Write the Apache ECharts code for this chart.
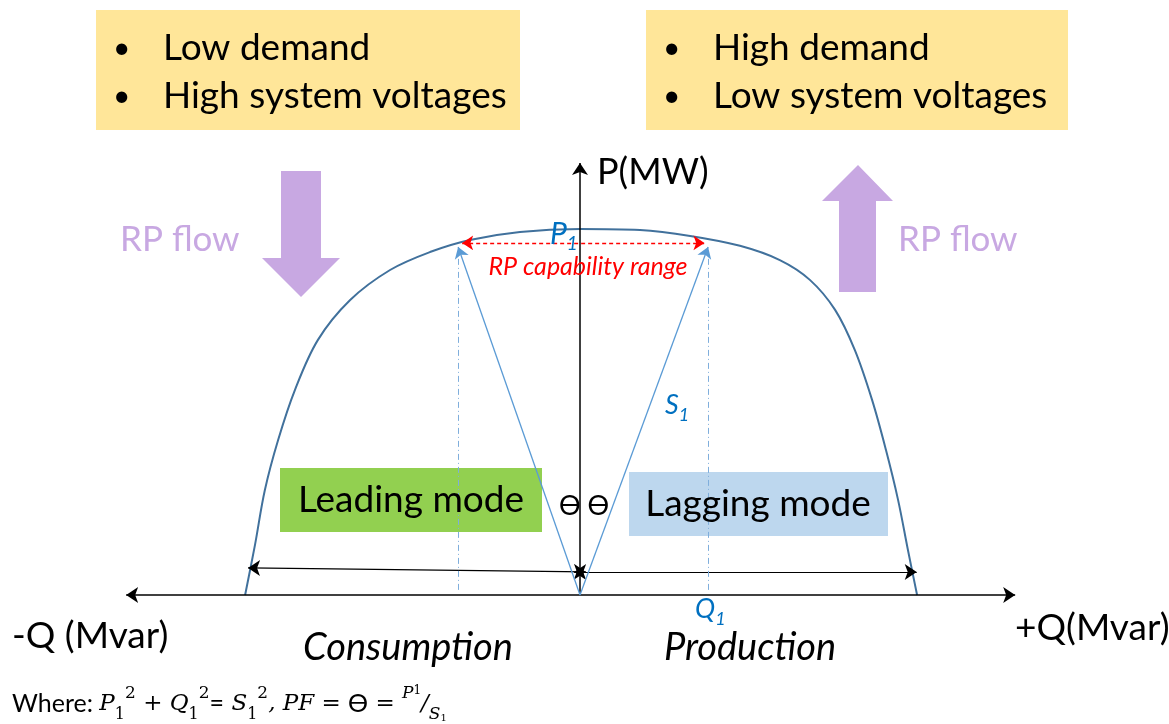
<!DOCTYPE html>
<html><head><meta charset="utf-8">
<script src="https://cdn.jsdelivr.net/npm/echarts@6/dist/echarts.min.js"></script>
<style>html,body{margin:0;padding:0;background:#fff}#c{width:1169px;height:724px}</style>
</head><body><div id="c"></div>
<script>
// Capability curve: Q (Mvar, relative units), P (MW, max normalised to 100)
const curveQ = [-91.5,-88.8,-86.1,-82.5,-77.9,-71.6,-62.8,-51.9,-41.0,-30.1,-16.4,0,16.4,30.1,43.7,54.6,62.8,69.7,75.1,79.8,83.6,86.9,89.6,92.1];
const curveP = [0,13.7,28.7,42.3,56.0,69.7,80.6,88.8,93.7,97.0,99.2,100,99.7,98.1,95.4,91.5,86.1,77.9,66.9,53.3,39.6,26.0,12.3,0];
// operating point
const P1 = 95.1;
const Q1Lead = -33.3;
const Q1Lag = 35.0;
// RP capability range arrow
const rangeP = 96.2;
const rangeQ = [-32.2, 34.0];
// leading/lagging extent arrows
const modeArrowP = [6.3, 7.4];
const qLimits = [-90.7, 92.0];
// axes extents
const axisQ = [-124, 118.9];
const axisPMax = 118;

const font = 'Lato';
const chart = echarts.init(document.getElementById('c'));

function seg(a, b) { return { coords: [a, b] }; }

const curve = curveQ.map((q, i) => [q, curveP[i]]);

function txt(x, y, text, size, opts) {
  return Object.assign({
    type: 'text', x: x, y: y, z: 10,
    style: Object.assign({ text: text, fontFamily: font, fontSize: size, fill: '#000', textVerticalAlign: 'middle' }, (opts && opts.style) || {})
  }, opts && opts.el || {});
}

const purple = '#C8A8E2';
const big = 37;
const graphics = [
  { type: 'rect', z: 1, shape: { x: 96, y: 10, width: 424, height: 120 }, style: { fill: '#FFE699' } },
  { type: 'rect', z: 1, shape: { x: 646, y: 10, width: 422, height: 120 }, style: { fill: '#FFE699' } },
  txt(113, 48, '•', 30), txt(163, 48, 'Low demand', big),
  txt(113, 96, '•', 30), txt(163, 96, 'High system voltages', big),
  txt(663, 48, '•', 30), txt(713, 48, 'High demand', big),
  txt(663, 96, '•', 30), txt(713, 96, 'Low system voltages', big),
  { type: 'polygon', z: 1, shape: { points: [[281,171],[321,171],[321,258],[340,258],[301,297],[262,258],[281,258]] }, style: { fill: purple } },
  { type: 'polygon', z: 1, shape: { points: [[839,292],[876,292],[876,201],[893,201],[858,165],[822,201],[839,201]] }, style: { fill: purple } },
  txt(120, 240, 'RP flow', 35, { style: { fill: purple } }),
  txt(898, 240, 'RP flow', 35, { style: { fill: purple } }),
  { type: 'rect', z: 1, shape: { x: 280, y: 468, width: 262, height: 64 }, style: { fill: '#92D050' } },
  { type: 'rect', z: 1, shape: { x: 629, y: 472, width: 259, height: 64 }, style: { fill: '#BDD7EE' } },
  txt(411, 500, 'Leading mode', big, { style: { textAlign: 'center' } }),
  txt(758, 504, 'Lagging mode', big, { style: { textAlign: 'center' } }),
  txt(584, 506, 'ϴ ϴ', 27, { style: { textAlign: 'center' } }),
  txt(408, 648, 'Consumption', 38, { style: { textAlign: 'center', fontStyle: 'italic' } }),
  txt(750, 648, 'Production', 38, { style: { textAlign: 'center', fontStyle: 'italic' } }),
  txt(12, 636, '-Q (Mvar)', big),
  txt(1015, 628, '+Q(Mvar)', big),
  txt(597, 172, 'P(MW)', 36),
  txt(588, 267, 'RP capability range', 25, { style: { textAlign: 'center', fontStyle: 'italic', fill: '#FF0000' } }),
  { type: 'text', x: 550, y: 236, z: 10, style: { text: '{a|P}{b|1}', textVerticalAlign: 'middle', rich: {
      a: { fontFamily: font, fontSize: 30, fontStyle: 'italic', fill: '#0070C0', lineHeight: 34, verticalAlign: 'top' },
      b: { fontFamily: font, fontSize: 19, fontStyle: 'italic', fill: '#0070C0', lineHeight: 34, verticalAlign: 'bottom' } } } },
  { type: 'text', x: 665, y: 408, z: 10, style: { text: '{a|S}{b|1}', textVerticalAlign: 'middle', rich: {
      a: { fontFamily: font, fontSize: 27, fontStyle: 'italic', fill: '#0070C0', lineHeight: 32, verticalAlign: 'top' },
      b: { fontFamily: font, fontSize: 18, fontStyle: 'italic', fill: '#0070C0', lineHeight: 32, verticalAlign: 'bottom' } } } },
  { type: 'text', x: 695, y: 612, z: 10, style: { text: '{a|Q}{b|1}', textVerticalAlign: 'middle', rich: {
      a: { fontFamily: font, fontSize: 27, fontStyle: 'italic', fill: '#0070C0', lineHeight: 32, verticalAlign: 'top' },
      b: { fontFamily: font, fontSize: 18, fontStyle: 'italic', fill: '#0070C0', lineHeight: 32, verticalAlign: 'bottom' } } } },
  { type: 'text', x: 12, y: 704, z: 10, style: {
      text: '{w|Where: }{m|P}{sb|1}{sp|2}{m| + Q}{sb|1}{sp|2}{w|=}{m| S}{sb|1}{sp|2}{m|, PF = }{w|ϴ}{m| = }{spi|P}{spn|1}{m|/}{sbi|S}{sbs|1}',
      textVerticalAlign: 'middle',
      rich: {
        w: { fontFamily: font, fontSize: 25, fill: '#000', lineHeight: 38, verticalAlign: 'middle' },
        m: { fontFamily: 'DejaVu Serif', fontSize: 23, fontStyle: 'italic', fill: '#000', lineHeight: 38, verticalAlign: 'middle' },
        sb: { fontFamily: 'DejaVu Serif', fontSize: 16, fill: '#000', lineHeight: 30, verticalAlign: 'bottom' },
        sp: { fontFamily: 'DejaVu Serif', fontSize: 17, fill: '#000', lineHeight: 36, verticalAlign: 'top' },
        spi: { fontFamily: 'DejaVu Serif', fontSize: 17, fontStyle: 'italic', fill: '#000', lineHeight: 36, verticalAlign: 'top' },
        spn: { fontFamily: 'DejaVu Serif', fontSize: 12, fill: '#000', lineHeight: 34, verticalAlign: 'top' },
        sbi: { fontFamily: 'DejaVu Serif', fontSize: 17, fontStyle: 'italic', fill: '#000', lineHeight: 30, verticalAlign: 'bottom' },
        sbs: { fontFamily: 'DejaVu Serif', fontSize: 10, fill: '#000', lineHeight: 26, verticalAlign: 'bottom' }
      } } }
];

const option = {
  animation: false,
  grid: { left: 31, right: 40, top: 155.8, bottom: 19.2 },
  xAxis: { type: 'value', min: -150, max: 150, show: false },
  yAxis: { type: 'value', min: -30, max: 120, show: false },
  graphic: graphics,
  series: [
    { type: 'line', data: curve, smooth: 0.35, symbol: 'none', z: 3,
      lineStyle: { color: '#41719C', width: 2 } },
    { type: 'lines', coordinateSystem: 'cartesian2d', z: 4,
      symbol: ['arrow', 'arrow'], symbolSize: 12,
      lineStyle: { color: '#000', width: 1.5, opacity: 1, curveness: 0 },
      data: [seg([axisQ[0], 0], [axisQ[1], 0])] },
    { type: 'lines', coordinateSystem: 'cartesian2d', z: 4,
      symbol: ['none', 'arrow'], symbolSize: 12,
      lineStyle: { color: '#000', width: 1.5, opacity: 1, curveness: 0 },
      data: [seg([0, 0], [0, axisPMax])] },
    { type: 'lines', coordinateSystem: 'cartesian2d', z: 4,
      symbol: ['arrow', 'arrow'], symbolSize: 12,
      lineStyle: { color: '#000', width: 1.2, opacity: 1, curveness: 0 },
      data: [seg([1.6, modeArrowP[0]], [qLimits[0], modeArrowP[1]]), seg([-1.6, modeArrowP[0]], [qLimits[1], modeArrowP[0]])] },
    { type: 'lines', coordinateSystem: 'cartesian2d', z: 5,
      symbol: ['none', 'arrow'], symbolSize: 11,
      lineStyle: { color: '#5B9BD5', width: 1.3, opacity: 1, curveness: 0 },
      data: [seg([0, 0], [Q1Lead, P1]), seg([0, 0], [Q1Lag, P1])] },
    { type: 'lines', coordinateSystem: 'cartesian2d', z: 4,
      symbol: 'none',
      lineStyle: { color: '#7FAEDC', width: 1, opacity: 1, type: [6, 3, 1, 3], curveness: 0 },
      data: [seg([Q1Lead, 1.4], [Q1Lead, 93]), seg([Q1Lag, 1.4], [Q1Lag, 93])] },
    { type: 'lines', coordinateSystem: 'cartesian2d', z: 5,
      symbol: ['arrow', 'arrow'], symbolSize: 11,
      lineStyle: { color: '#FF0000', width: 1.3, opacity: 1, type: [4, 3], curveness: 0 },
      data: [seg([rangeQ[0], rangeP], [rangeQ[1], rangeP])] }
  ]
};
chart.setOption(option);
</script>
</body></html>
